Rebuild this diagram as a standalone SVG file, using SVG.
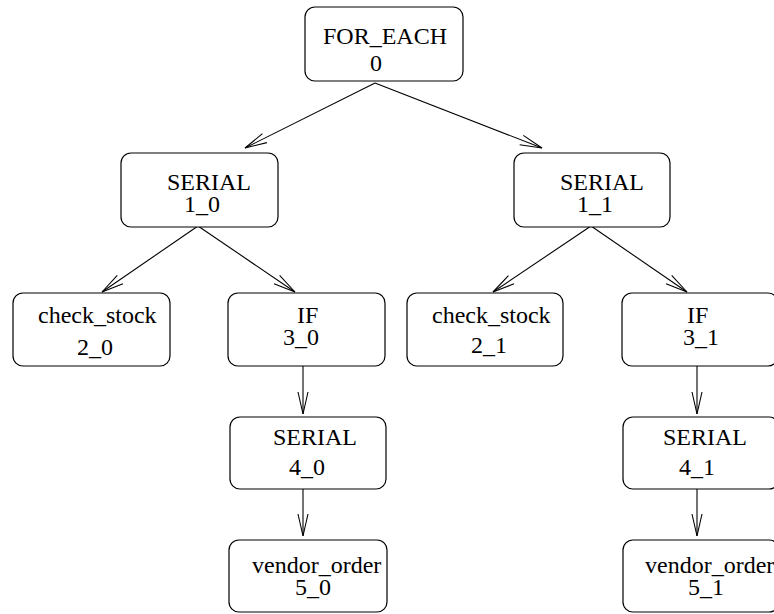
<svg xmlns="http://www.w3.org/2000/svg" width="774" height="614" viewBox="0 0 774 614">
  <style>
    .box { fill: #ffffff; stroke: #000000; stroke-width: 1.2; }
    .lbl { font-family: "Liberation Serif", "Times New Roman", serif; font-size: 24px; fill: #000000; }
    .edge { fill: none; stroke: #000000; stroke-width: 1.1; marker-end: url(#arr); }
  </style>
  <defs>
    <marker id="arr" viewBox="-24 -8 26 16" refX="0" refY="0" markerWidth="26" markerHeight="16" markerUnits="userSpaceOnUse" orient="auto">
      <path d="M -22 -5 L 0 0 L -22 5" fill="none" stroke="#000000" stroke-width="1.1"/>
    </marker>
  </defs>
  <rect width="774" height="614" fill="#ffffff"/>

  <g id="connectors">
    <line class="edge" x1="375" y1="83" x2="245" y2="148"/>
    <line class="edge" x1="375" y1="83" x2="542" y2="148"/>
    <line class="edge" x1="198" y1="226" x2="102" y2="292"/>
    <line class="edge" x1="198" y1="226" x2="295" y2="292"/>
    <line class="edge" x1="591" y1="226" x2="493" y2="292"/>
    <line class="edge" x1="591" y1="226" x2="687" y2="292"/>
    <line class="edge" x1="303" y1="366" x2="303" y2="414"/>
    <line class="edge" x1="303" y1="489" x2="303" y2="536"/>
    <line class="edge" x1="697" y1="366" x2="697" y2="414"/>
    <line class="edge" x1="697" y1="489" x2="697" y2="536"/>
  </g>

  <g id="n0">
    <rect class="box" x="305" y="7" width="158" height="74" rx="10"/>
    <text class="lbl" x="323" y="44">FOR_EACH</text>
    <text class="lbl" x="370" y="71">0</text>
  </g>
  <g id="n1_0">
    <rect class="box" x="121" y="153" width="157" height="74" rx="10"/>
    <text class="lbl" x="167" y="190">SERIAL</text>
    <text class="lbl" x="184" y="212">1_0</text>
  </g>
  <g id="n1_1">
    <rect class="box" x="514" y="153" width="156" height="74" rx="10"/>
    <text class="lbl" x="560" y="190">SERIAL</text>
    <text class="lbl" x="577" y="212">1_1</text>
  </g>
  <g id="n2_0">
    <rect class="box" x="13" y="293" width="157" height="73" rx="10"/>
    <text class="lbl" x="38" y="323">check_stock</text>
    <text class="lbl" x="77" y="355">2_0</text>
  </g>
  <g id="n3_0">
    <rect class="box" x="228" y="293" width="157" height="73" rx="10"/>
    <text class="lbl" x="297" y="323">IF</text>
    <text class="lbl" x="283" y="345">3_0</text>
  </g>
  <g id="n2_1">
    <rect class="box" x="407" y="293" width="156" height="73" rx="10"/>
    <text class="lbl" x="432" y="323">check_stock</text>
    <text class="lbl" x="471" y="353">2_1</text>
  </g>
  <g id="n3_1">
    <rect class="box" x="622" y="293" width="156" height="73" rx="10"/>
    <text class="lbl" x="687" y="323">IF</text>
    <text class="lbl" x="683" y="345">3_1</text>
  </g>
  <g id="n4_0">
    <rect class="box" x="230" y="417" width="156" height="72" rx="10"/>
    <text class="lbl" x="273" y="445">SERIAL</text>
    <text class="lbl" x="289" y="475">4_0</text>
  </g>
  <g id="n4_1">
    <rect class="box" x="623" y="417" width="156" height="72" rx="10"/>
    <text class="lbl" x="663" y="445">SERIAL</text>
    <text class="lbl" x="679" y="475">4_1</text>
  </g>
  <g id="n5_0">
    <rect class="box" x="229" y="540" width="158" height="72" rx="10"/>
    <text class="lbl" x="252" y="573">vendor_order</text>
    <text class="lbl" x="295" y="595">5_0</text>
  </g>
  <g id="n5_1">
    <rect class="box" x="623" y="540" width="156" height="72" rx="10"/>
    <text class="lbl" x="645" y="573">vendor_order</text>
    <text class="lbl" x="688" y="595">5_1</text>
  </g>
</svg>
